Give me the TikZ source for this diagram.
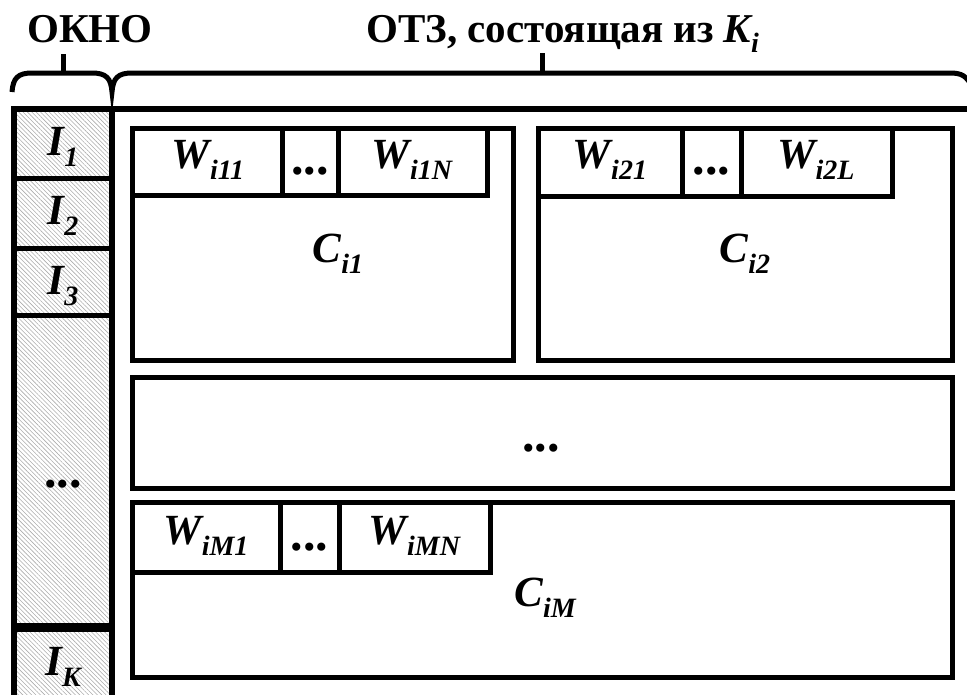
\documentclass[tikz,border=0pt]{standalone}
\usepackage{fontspec}
\setmainfont{Liberation Serif}
\usetikzlibrary{patterns.meta}
\newcommand{\mysub}[1]{\raisebox{-0.26em}{\fontsize{28pt}{28pt}\selectfont #1}}
\begin{document}
\begin{tikzpicture}[x=1pt,y=-1pt,
  frame/.style={line width=5.5pt},
  box/.style={line width=5pt},
  brc/.style={line width=5pt},
  lbl/.style={font=\fontsize{43pt}{43pt}\selectfont\bfseries\itshape, inner sep=0pt, anchor=base},
  ttl/.style={font=\fontsize{41pt}{41pt}\selectfont\bfseries, inner sep=0pt, anchor=base},
  dts/.style={font=\fontsize{50pt}{50pt}\selectfont\bfseries, inner sep=0pt, anchor=base},
  hatch/.style={pattern={Lines[angle=-45,distance=3.1pt,line width=0.6pt]}, pattern color=gray!65}]
\useasboundingbox (0,0) rectangle (967,694);
\clip (0,0) rectangle (967,694);
% titles
\node[ttl] (okno) at (90,42) {ОКНО};
\node[ttl, anchor=base west] (otz) at (366,42) {ОТЗ, состоящая из \textit{K\mysub{i}}};
% braces
\draw[brc] (12,92) .. controls (13,78) and (18,73) .. (32,73) -- (92,73)
  .. controls (106,73) and (111,78) .. (112,92)
  .. controls (113,78) and (118,73) .. (132,73) -- (950,73)
  .. controls (962,73) and (966,76) .. (972,86);
\draw[brc] (63,73) -- (63,54);
\draw[brc] (542,73) -- (542,53);
% window column
\fill[hatch] (14,109) rectangle (112,720);
\draw[frame] (14,720) -- (14,109) -- (980,109);
\draw[frame] (112,109) -- (112,720);
\draw[box] (14,178) -- (112,178);
\draw[box] (14,248) -- (112,248);
\draw[box] (14,315) -- (112,315);
\draw[line width=9pt] (14,627) -- (112,627);
\node[lbl] (i1) at (63,155) {I\mysub{1}};
\node[lbl] (i2) at (63,224) {I\mysub{2}};
\node[lbl] (i3) at (63,294) {I\mysub{3}};
\node[dts] (idots) at (63,487) {...};
\node[lbl] (ik) at (63,675) {I\mysub{K}};
% C_i1
\draw[box] (132,128) rectangle (513,360);
\draw[box] (132,195) -- (487,195) -- (487,128);
\draw[box] (282,128) -- (282,195);
\draw[box] (338,128) -- (338,195);
\node[lbl] (w111) at (208,168) {W\mysub{i11}};
\node[dts] (d1) at (310,174) {...};
\node[lbl] (w11n) at (412,168) {W\mysub{i1N}};
\node[lbl] (c1) at (338,262) {C\mysub{i1}};
% C_i2
\draw[box] (538,128) rectangle (952,360);
\draw[box] (538,196) -- (892,196) -- (892,128);
\draw[box] (682,128) -- (682,196);
\draw[box] (741,128) -- (741,196);
\node[lbl] (w121) at (610,168) {W\mysub{i21}};
\node[dts] (d2) at (711.5,174) {...};
\node[lbl] (w12l) at (816,168) {W\mysub{i2L}};
\node[lbl] (c2) at (745,262) {C\mysub{i2}};
% middle
\draw[box] (132,377) rectangle (952,488);
\node[dts] (dm) at (541,451) {...};
% C_iM
\draw[box] (132,502) rectangle (952,677);
\draw[box] (132,572) -- (490,572) -- (490,502);
\draw[box] (280,502) -- (280,572);
\draw[box] (339,502) -- (339,572);
\node[lbl] (wm1) at (206,544) {W\mysub{iM1}};
\node[dts] (d3) at (309.5,550) {...};
\node[lbl] (wmn) at (414.5,544) {W\mysub{iMN}};
\node[lbl] (cm) at (545,606) {C\mysub{iM}};
\end{tikzpicture}
\end{document}
